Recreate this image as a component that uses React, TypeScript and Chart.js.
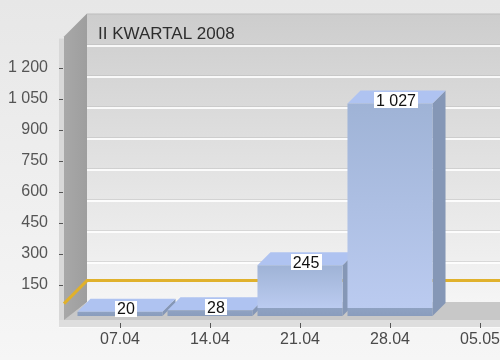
import React, { useEffect, useRef } from 'react';
import { Chart, registerables } from 'chart.js';

Chart.register(...registerables);

const categories = ['07.04', '14.04', '21.04', '28.04', '05.05'];
const values: (number | null)[] = [20, 28, 245, 1027, null];
const yMin = 0;
const yMax = 1350;
const yStep = 150;
const targetLine = 60;
const chartTitle = 'II KWARTAL 2008';

const FONT = '"Liberation Sans", Arial, sans-serif';
const WALL = 23;
const BAR_D = 13;

const fmt = (n: number) => String(Math.round(n)).replace(/\B(?=(\d{3})+(?!\d))/g, ' ');

const threeD = {
  id: 'threeD',
  beforeDatasetsDraw(chart: any) {
    const { ctx, chartArea: ca } = chart;
    const xs = chart.scales.x;
    const ys = chart.scales.y;
    const W = chart.width;
    const y0 = ys.getPixelForValue(0);
    const yT = ys.getPixelForValue(yMax);
    const fL = ca.left - 11;
    const bL = fL + WALL;
    const backTop = yT - WALL;
    const backBottom = y0 - 14;
    const floorFront = y0 + 4;
    ctx.save();

    // back wall
    const g = ctx.createLinearGradient(0, backTop, 0, backBottom);
    g.addColorStop(0, '#cdcdcd');
    g.addColorStop(1, '#f5f5f5');
    ctx.fillStyle = g;
    ctx.fillRect(bL, backTop, W - bL, backBottom - backTop);
    ctx.fillStyle = '#c0c0c0';
    ctx.fillRect(bL, backTop, W - bL, 1);

    // gridlines on back wall
    for (let v = yStep; v < yMax; v += yStep) {
      const gy = Math.round(ys.getPixelForValue(v) - WALL);
      ctx.fillStyle = 'rgba(175,175,175,0.35)';
      ctx.fillRect(bL, gy - 1, W - bL, 1);
      ctx.fillStyle = 'rgba(255,255,255,0.85)';
      ctx.fillRect(bL, gy, W - bL, 2);
    }

    // title
    ctx.fillStyle = '#2e2e2e';
    ctx.font = `17px ${FONT}`;
    ctx.textAlign = 'left';
    ctx.textBaseline = 'alphabetic';
    ctx.fillText(chartTitle, bL + 11, backTop + 25);

    // left wall front edge strip
    ctx.fillStyle = '#d8d8d8';
    ctx.fillRect(fL - 5, yT + 2, 5, floorFront + 6 - yT);

    // left wall
    const lg = ctx.createLinearGradient(fL, 0, bL, 0);
    lg.addColorStop(0, '#a8a8a8');
    lg.addColorStop(1, '#9e9e9e');
    ctx.fillStyle = lg;
    ctx.beginPath();
    ctx.moveTo(fL, yT);
    ctx.lineTo(bL, backTop);
    ctx.lineTo(bL, backBottom);
    ctx.lineTo(fL, floorFront + 2);
    ctx.closePath();
    ctx.fill();

    // floor
    ctx.fillStyle = '#c8c8c8';
    ctx.beginPath();
    ctx.moveTo(fL, floorFront);
    ctx.lineTo(W, floorFront);
    ctx.lineTo(W, backBottom);
    ctx.lineTo(bL, backBottom);
    ctx.closePath();
    ctx.fill();
    ctx.fillStyle = '#dedede';
    ctx.fillRect(fL - 5, floorFront, W - fL + 5, 7);
    ctx.fillStyle = '#fafafa';
    ctx.fillRect(fL - 5, floorFront + 7, W - fL + 5, 1);

    // target line
    const ty = ys.getPixelForValue(targetLine);
    ctx.strokeStyle = '#e0b12c';
    ctx.lineWidth = 3;
    ctx.beginPath();
    ctx.moveTo(fL, ty);
    ctx.lineTo(bL, ty - WALL);
    ctx.lineTo(W, ty - WALL);
    ctx.stroke();

    // axis tick marks
    ctx.fillStyle = '#555';
    for (let v = yStep; v < yMax; v += yStep) {
      const py = Math.round(ys.getPixelForValue(v));
      ctx.fillRect(fL - 5, py, 4, 1);
    }
    for (let i = 0; i < categories.length; i++) {
      const px = Math.round(xs.getPixelForValue(i));
      ctx.fillRect(px, floorFront + 3, 1, 5);
    }

    // bar side and top faces
    const meta = chart.getDatasetMeta(0);
    meta.data.forEach((el: any, i: number) => {
      if (values[i] == null) return;
      const { x, y, base, width } = el.getProps(['x', 'y', 'base', 'width'], true);
      const l = x - width / 2;
      const r = x + width / 2;
      ctx.fillStyle = '#8597b6';
      ctx.beginPath();
      ctx.moveTo(r, y);
      ctx.lineTo(r + BAR_D, y - BAR_D);
      ctx.lineTo(r + BAR_D, base - BAR_D);
      ctx.lineTo(r, base);
      ctx.closePath();
      ctx.fill();
      ctx.fillStyle = '#afc3f1';
      ctx.beginPath();
      ctx.moveTo(l, y);
      ctx.lineTo(l + BAR_D, y - BAR_D);
      ctx.lineTo(r + BAR_D, y - BAR_D);
      ctx.lineTo(r, y);
      ctx.closePath();
      ctx.fill();
    });
    ctx.restore();
  },
  afterDatasetsDraw(chart: any) {
    const { ctx } = chart;
    const meta = chart.getDatasetMeta(0);
    ctx.save();
    ctx.font = `16px ${FONT}`;
    ctx.textAlign = 'center';
    ctx.textBaseline = 'middle';
    meta.data.forEach((el: any, i: number) => {
      const v = values[i];
      if (v == null) return;
      const { x, y } = el.getProps(['x', 'y'], true);
      const t = fmt(v);
      const w = ctx.measureText(t).width + 4;
      const cx = x + 6;
      const cy = y - 3;
      ctx.fillStyle = '#ffffff';
      ctx.fillRect(Math.round(cx - w / 2), Math.round(cy - 8), Math.round(w), 16);
      ctx.fillStyle = '#111';
      ctx.fillText(t, cx, cy + 1);
    });
    ctx.restore();
  },
};

export default function App() {
  const ref = useRef<HTMLCanvasElement>(null);
  useEffect(() => {
    const chart = new Chart(ref.current as HTMLCanvasElement, {
      type: 'bar',
      data: {
        labels: categories,
        datasets: [
          {
            data: values,
            borderWidth: 0,
            barPercentage: 0.945,
            categoryPercentage: 1,
            backgroundColor: (c: any) => {
              const ch = c.chart;
              const ys = ch.scales && ch.scales.y;
              if (!ys || c.raw == null || !ch.chartArea) return '#a8bbe0';
              const top = ys.getPixelForValue(c.raw);
              const bot = ys.getPixelForValue(0);
              const h = Math.max(1, bot - top);
              const g = ch.ctx.createLinearGradient(0, top, 0, bot);
              const s = Math.max(0, Math.min(1, 1 - 8 / h));
              g.addColorStop(0, '#9fb3d6');
              g.addColorStop(Math.max(0, s - 0.001), '#bbcbf0');
              g.addColorStop(s, '#8fa2c2');
              g.addColorStop(1, '#8a9dbd');
              return g;
            },
          },
        ],
      },
      options: {
        responsive: false,
        animation: false,
        devicePixelRatio: 1,
        layout: { padding: { top: 34, right: 25, left: 0, bottom: 0 } },
        plugins: {
          legend: { display: false },
          tooltip: { enabled: false },
          title: { display: false },
        },
        scales: {
          x: {
            grid: { display: false, drawTicks: false },
            border: { display: false },
            ticks: {
              padding: 14,
              color: '#4a4a4a',
              font: { family: FONT, size: 16 },
              maxRotation: 0,
              autoSkip: false,
            },
            afterFit: (s: any) => {
              s.height = 44;
            },
          },
          y: {
            min: yMin,
            max: yMax,
            grid: { display: false, drawTicks: false },
            border: { display: false },
            ticks: {
              stepSize: yStep,
              padding: 27,
              color: '#555',
              font: { family: FONT, size: 16 },
              callback: (v: any) => (v === yMin || v === yMax ? '' : fmt(Number(v))),
            },
            afterFit: (s: any) => {
              s.width = 75;
            },
          },
        },
      },
      plugins: [threeD],
    });
    return () => chart.destroy();
  }, []);
  return (
    <div
      style={{
        position: 'fixed',
        left: 0,
        top: 0,
        width: 500,
        height: 360,
        overflow: 'hidden',
        background: 'linear-gradient(#e7e7e7, #f6f6f6)',
      }}
    >
      <canvas ref={ref} width={550} height={360} style={{ display: 'block' }} />
    </div>
  );
}
